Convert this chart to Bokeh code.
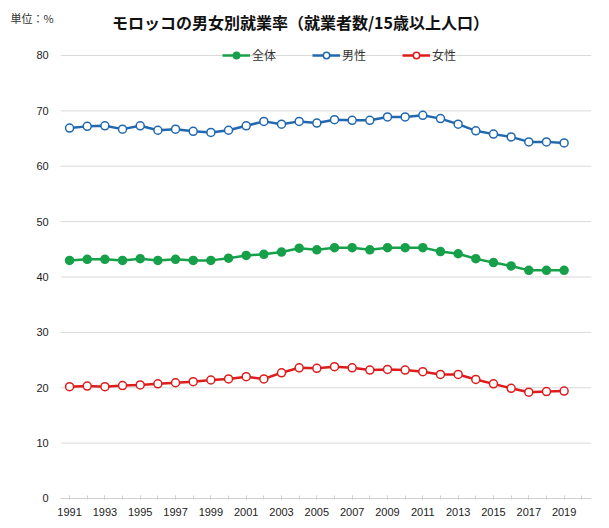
from bokeh.plotting import figure
from bokeh.models import (Range1d, FixedTicker, Legend, LegendItem, Label, ColumnDataSource)
from bokeh.embed import file_html
from bokeh.resources import INLINE

years = list(range(1991, 2020))
total = [43.0, 43.2, 43.2, 43.0, 43.3, 43.0, 43.2, 43.0, 43.0, 43.4,
         43.9, 44.1, 44.5, 45.2, 44.9, 45.3, 45.3, 44.9, 45.3, 45.3,
         45.3, 44.6, 44.2, 43.3, 42.6, 42.0, 41.2, 41.2, 41.2]
male = [66.9, 67.2, 67.3, 66.7, 67.3, 66.5, 66.7, 66.3, 66.1, 66.5,
        67.3, 68.1, 67.6, 68.1, 67.8, 68.4, 68.3, 68.3, 68.9, 68.9,
        69.2, 68.6, 67.6, 66.4, 65.8, 65.3, 64.4, 64.4, 64.2]
female = [20.2, 20.3, 20.2, 20.4, 20.5, 20.7, 20.9, 21.1, 21.4, 21.6,
          22.0, 21.6, 22.7, 23.6, 23.5, 23.8, 23.6, 23.2, 23.3, 23.2,
          22.9, 22.4, 22.4, 21.5, 20.7, 19.9, 19.2, 19.3, 19.4]
series_names = ["全体", "男性", "女性"]
title_text = "モロッコの男女別就業率（就業者数/15歳以上人口）"
unit_text = "単位：%"
y_ticks = list(range(0, 90, 10))
x_label_years = list(range(1991, 2020, 2))
x_minor_years = list(range(1991, 2021))

GREEN = "#17a04a"
BLUE = "#2068b0"
RED = "#de1c1c"
NUM_FONT = "Liberation Sans"
JP_FONT = "Noto Sans CJK JP"

# plot-area extent along x (data units)
X_LO, X_HI = 1990.5, 2020.55
W, H = 600, 520
p = figure(width=W, height=H, output_backend="svg", toolbar_location=None,
           x_range=Range1d(1987.09, X_HI), y_range=Range1d(-3.973, 89.93),
           min_border_left=0, min_border_right=9, min_border_top=0, min_border_bottom=0)
p.outline_line_color = None
p.background_fill_color = "white"
p.border_fill_color = "white"

p.xgrid.visible = False
p.ygrid.visible = False
# horizontal gridlines limited to the plot area
p.segment(x0=[X_LO] * len(y_ticks), x1=[X_HI] * len(y_ticks), y0=y_ticks, y1=y_ticks,
          line_color="#d9d9d9", line_width=1)

p.yaxis.fixed_location = X_LO
p.yaxis.ticker = FixedTicker(ticks=y_ticks)
p.yaxis.axis_line_color = None
p.yaxis.major_tick_line_color = None
p.yaxis.minor_tick_line_color = None
p.yaxis.major_label_standoff = 6
p.yaxis.major_label_text_font = NUM_FONT
p.yaxis.major_label_text_font_size = "11px"
p.yaxis.major_label_text_color = "#222222"

p.xaxis.fixed_location = 0
p.xaxis.bounds = (X_LO, X_HI)
p.xaxis.ticker = FixedTicker(ticks=x_label_years, minor_ticks=x_minor_years)
p.xaxis.axis_line_color = "#d0d0d0"
p.xaxis.major_tick_line_color = "#d0d0d0"
p.xaxis.minor_tick_line_color = "#d0d0d0"
p.xaxis.major_tick_in = 3
p.xaxis.major_tick_out = 1
p.xaxis.minor_tick_in = 3
p.xaxis.minor_tick_out = 1
p.xaxis.major_label_standoff = 9
p.xaxis.major_label_text_font = NUM_FONT
p.xaxis.major_label_text_font_size = "11px"
p.xaxis.major_label_text_color = "#222222"

src = ColumnDataSource(dict(year=years, total=total, male=male, female=female))

items = []
specs = [("total", GREEN, GREEN), ("male", BLUE, "white"), ("female", RED, "white")]
for (col, color, fill), name in zip(specs, series_names):
    l = p.line("year", col, source=src, line_color=color, line_width=2.5)
    s = p.scatter("year", col, source=src, marker="circle", size=8,
                  line_color=color, fill_color=fill, line_width=1.5)
    items.append(LegendItem(label=name, renderers=[l, s]))

legend = Legend(items=items, orientation="horizontal", location=(222, 457),
                glyph_width=28, glyph_height=16, label_height=16, label_standoff=2,
                spacing=36, padding=0, margin=0, border_line_color=None,
                background_fill_alpha=0.0,
                label_text_font=JP_FONT, label_text_font_size="12px",
                label_text_color="#333333")
p.add_layout(legend, "center")

p.add_layout(Label(x=2004.07, y=85.96, text=title_text, text_align="center",
                   text_baseline="middle", text_font=JP_FONT, text_font_size="16px",
                   text_font_style="bold", text_color="#111111"))
p.add_layout(Label(x=1987.66, y=86.86, text=unit_text,
                   text_align="left", text_baseline="middle", text_font=JP_FONT,
                   text_font_size="11px", text_color="#333333"))

open("out.html", "w").write(file_html(p, INLINE))
